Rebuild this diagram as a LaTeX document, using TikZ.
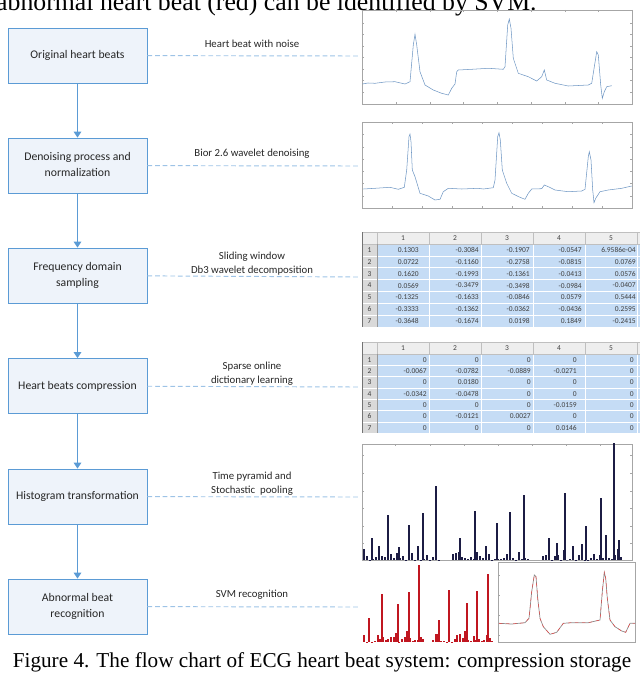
\documentclass[tikz,border=0pt]{standalone}
\usepackage{fontspec}
\setmainfont{Liberation Serif}
\setsansfont{Carlito}
\usetikzlibrary{arrows.meta}

\definecolor{boxfill}{RGB}{238,243,250}
\definecolor{boxline}{RGB}{91,155,213}
\definecolor{dashline}{RGB}{157,195,230}
\definecolor{cellblue}{RGB}{197,220,245}
\definecolor{hdrgrey}{RGB}{238,238,238}
\definecolor{navybar}{RGB}{28,28,68}
\definecolor{redbar}{RGB}{192,22,32}
\definecolor{ecgblue}{RGB}{110,150,195}

\begin{document}
\begin{tikzpicture}[x=0.3mm,y=-0.3mm,
  stage/.style={draw=boxline,fill=boxfill,line width=0.8pt,minimum width=41.7mm,minimum height=16.5mm,inner sep=0pt,text=black!85,font=\sffamily\fontsize{10}{13.6}\selectfont},
  note/.style={inner sep=0pt,text=black!85,font=\sffamily\fontsize{9.2}{11.8}\selectfont},
  flow/.style={-{Triangle[length=5pt,width=6.5pt]},draw=boxline,line width=0.8pt},
  link/.style={draw=dashline,dash pattern=on 4pt off 2.5pt,line width=0.8pt},
  cell/.style={inner sep=0pt,text=black!75,font=\sffamily\fontsize{6.4}{7}\selectfont},
  plotbox/.style={draw=black!35,line width=0.3pt}]
\clip (0,0) rectangle (640,674);
\useasboundingbox (0,0) rectangle (640,674);

% captions
\node[anchor=base west,inner sep=0pt] (topcap) at (-4,11) {\fontsize{22}{24}\selectfont abnormal heart beat (red) can be identified by SVM.};
\node[anchor=base,inner sep=0pt] (figcap) at (322,667) {\fontsize{18.1}{20}\selectfont Figure 4. The flow chart of ECG heart beat system: compression storage};

% flow chart
\node[stage] (orig) at (77.5,55.5) {Original heart beats};
\node[stage] (denoise) at (77.5,165.5) {\begin{tabular}{@{}c@{}}Denoising process and\\ normalization\end{tabular}};
\node[stage] (freq) at (77.5,275.5) {\begin{tabular}{@{}c@{}}Frequency domain\\ sampling\end{tabular}};
\node[stage] (compress) at (77.5,386) {Heart beats compression};
\node[stage] (hist) at (77.5,496.5) {Histogram transformation};
\node[stage] (abnormal) at (77.5,606.5) {\begin{tabular}{@{}c@{}}Abnormal beat\\ recognition\end{tabular}};

\draw[flow] (orig) -- (denoise);
\draw[flow] (denoise) -- (freq);
\draw[flow] (freq) -- (compress);
\draw[flow] (compress) -- (hist);
\draw[flow] (hist) -- (abnormal);

% dashed links to the panels
\coordinate (p1) at (359,56);
\coordinate (p2) at (359,166);
\coordinate (p3) at (359,277);
\coordinate (p4) at (359,387);
\coordinate (p5) at (359,497);
\coordinate (p6) at (359,607);
\draw[link] (orig) -- (p1);
\draw[link] (denoise) -- (p2);
\draw[link] (freq) -- (p3);
\draw[link] (compress) -- (p4);
\draw[link] (hist) -- (p5);
\draw[link] (abnormal) -- (p6);

\node[note] (lab1) at (252,44) {Heart beat with noise};
\node[note] (lab2) at (252,154) {Bior 2.6 wavelet denoising};
\node[note] (lab3) at (252,264) {\begin{tabular}{@{}c@{}}Sliding window\\ Db3 wavelet decomposition\end{tabular}};
\node[note] (lab4) at (252,374) {\begin{tabular}{@{}c@{}}Sparse online\\ dictionary learning\end{tabular}};
\node[note] (lab5) at (252,484) {\begin{tabular}{@{}c@{}}Time pyramid and\\ Stochastic\ \ pooling\end{tabular}};
\node[note] (lab6) at (252,595) {SVM recognition};

% noisy ECG
\draw[plotbox] (362,10) rectangle (632,104);
\foreach \x in {362,396,430,463,497,531,565,598,632}
  \draw[plotbox] (\x,104) -- ++(0,-2) (\x,10) -- ++(0,2);
\foreach \y in {23,34,46,57,69,80,92}
  \draw[plotbox] (362,\y) -- ++(2,0) (632,\y) -- ++(-2,0);
\draw[ecgblue,line width=0.45pt] plot coordinates {(362.3,84) (368,83) (375,83.3) (385,82) (395,81.7) (405,84) (410,81.7) (413.3,45) (415,34.3) (416.7,45) (420,71.7) (425,85) (433.3,90) (441.7,93.3) (448.3,95) (451.7,88.3) (455,84) (456.7,71.7) (458.3,70) (471.7,69.3) (488.3,68.3) (503.3,69.3) (505,66.7) (507.7,25) (509.3,19) (511,28.3) (513.3,58.3) (518.3,73.3) (528.3,76.7) (536.7,81) (541.7,76.7) (544.3,70) (546.7,80) (555,83.3) (568.3,86) (588.3,85) (591.7,83.3) (596.7,51.7) (598.3,55) (600.7,85) (602.3,98.3) (604.3,91.7) (606.7,86.7) (611.7,85.7)};

% denoised ECG
\draw[plotbox] (362,122) rectangle (632,208);
\foreach \x in {362,392,422,452,482,512,542,572,602,632}
  \draw[plotbox] (\x,208) -- ++(0,-2) (\x,122) -- ++(0,2);
\foreach \y in {134,147,159,171,183,196}
  \draw[plotbox] (362,\y) -- ++(2,0) (632,\y) -- ++(-2,0);
\draw[ecgblue,line width=0.45pt] plot coordinates {(363.3,189) (375,188.3) (390,187.3) (398.3,189.3) (404.3,187.3) (406.7,170) (409,136.7) (410,134) (411,141.7) (412.3,170) (415,176.7) (420,193.3) (428.3,196) (435,200) (440,199.3) (443.3,191.7) (448.3,188.3) (461.7,189) (478.3,188.3) (483.3,189) (493.3,187.7) (495,180) (497.7,136.7) (499,132.7) (500.3,140) (502.3,170) (506.7,183.3) (511.7,193.3) (520,197.3) (525,199.3) (528.3,193.3) (531.7,189) (541.7,188.7) (544.3,185) (548.3,186.7) (555,190) (568.3,191.7) (581.7,191) (585,189.3) (588.3,156.7) (589.3,151.7) (591,160) (592.7,190) (594,202.7) (595.7,198.3) (600,191.7) (608.3,190) (621.7,188.3) (631.7,186)};

% table of wavelet coefficients
\fill[cellblue] (377,244) rectangle (640,327);
\fill[hdrgrey] (362,232) rectangle (640,244);
\fill[black!15] (362,244) rectangle (377,327);
\foreach \r in {1,...,6}
  \draw[white,line width=0.5pt] (362,{244+11.86*\r}) -- (640,{244+11.86*\r});
\foreach \x in {429,481,533,585,637}
  \draw[white,line width=0.5pt] (\x,244) -- (\x,327);
\foreach \x in {377,429,481,533,585,637}
  \draw[black!25,line width=0.3pt] (\x,232) -- (\x,244);
\draw[black!25,line width=0.3pt] (362,232) -- (640,232) (362,244) -- (640,244);
\draw[black!55,line width=0.8pt] (362,232) -- (362,327);
\draw[black!40,line width=0.3pt] (377,244) -- (377,327);
\foreach \c/\x in {1/403,2/455,3/507,4/559,5/611}
  \node[cell] (ta-h\c) at (\x,238) {\c};
\foreach \r/\vals in {1/{0.1303,-0.3084,-0.1907,-0.0547,6.9586e-04},
                      2/{0.0722,-0.1160,-0.2758,-0.0815,0.0769},
                      3/{0.1620,-0.1993,-0.1361,-0.0413,0.0576},
                      4/{0.0569,-0.3479,-0.3498,-0.0984,-0.0407},
                      5/{-0.1325,-0.1633,-0.0846,0.0579,0.5444},
                      6/{-0.3333,-0.1362,-0.0362,-0.0436,0.2595},
                      7/{-0.3648,-0.1674,0.0198,0.1849,-0.2415}} {
  \node[cell] (ta-i\r) at (369.5,{238.07+11.86*\r}) {\r};
  \foreach \v [count=\c] in \vals {
    \pgfmathsetmacro\xr{{419,479,530,582,636}[\c-1]}
    \node[cell,anchor=east] (ta-\r-\c) at (\xr,{238.07+11.86*\r}) {\v};
  }
}

% table of sparse codes
\fill[cellblue] (377,354) rectangle (640,433);
\fill[hdrgrey] (362,342) rectangle (640,354);
\fill[black!15] (362,354) rectangle (377,433);
\foreach \r in {1,...,6}
  \draw[white,line width=0.5pt] (362,{354+11.33*\r}) -- (640,{354+11.33*\r});
\foreach \x in {429,481,533,585,637}
  \draw[white,line width=0.5pt] (\x,354) -- (\x,433);
\foreach \x in {377,429,481,533,585,637}
  \draw[black!25,line width=0.3pt] (\x,342) -- (\x,354);
\draw[black!25,line width=0.3pt] (362,342) -- (640,342) (362,354) -- (640,354);
\draw[black!55,line width=0.8pt] (362,342) -- (362,433);
\draw[black!40,line width=0.3pt] (377,354) -- (377,433);
\foreach \c/\x in {1/403,2/455,3/507,4/559,5/611}
  \node[cell] (tb-h\c) at (\x,348) {\c};
\foreach \r/\vals in {1/{0,0,0,0,0},
                      2/{-0.0067,-0.0782,-0.0889,-0.0271,0},
                      3/{0,0.0180,0,0,0},
                      4/{-0.0342,-0.0478,0,0,0},
                      5/{0,0,0,-0.0159,0},
                      6/{0,-0.0121,0.0027,0,0},
                      7/{0,0,0,0.0146,0}} {
  \node[cell] (tb-i\r) at (369.5,{348.33+11.33*\r}) {\r};
  \foreach \v [count=\c] in \vals {
    \pgfmathsetmacro\xr{{427,479,531,577,634}[\c-1]}
    \node[cell,anchor=east] (tb-\r-\c) at (\xr,{348.33+11.33*\r}) {\v};
  }
}

% pooled histogram
\draw[plotbox] (362,444) rectangle (632,560);
\foreach \y in {455,473,491,508,526,543}
  \draw[plotbox] (362,\y) -- ++(2,0) (632,\y) -- ++(-2,0);
\foreach \x in {395,430,464,498,532,566,600}
  \draw[plotbox] (\x,444) -- ++(0,2);
\pgfmathsetseed{11}
\foreach \x in {363,366,...,438,452,455,...,528,542,545,...,620} {
  \pgfmathsetmacro\h{17*rnd*rnd}
  \fill[navybar] (\x,560) rectangle ++(2.4,-\h);
}
\foreach \x/\t in {371/538,378/546,387/515,398/547,408/525,417/546,422/513,435/486,459/538,474/511,
                   485/546,496/523,509/512,523/495,548/538,556/543,564/493,585/526,600/498,605/535,613/443,618/540}
  \fill[navybar] (\x,560) rectangle (\x+2.4,\t);

% abnormal beat histogram
\pgfmathsetseed{5}
\foreach \x in {363,365.7,...,424,432,434.7,...,492} {
  \pgfmathsetmacro\h{16*rnd*rnd}
  \fill[redbar] (\x,642) rectangle ++(2,-\h);
}
\foreach \x/\t in {368/618,381/594,397/604,408/592,418/565,438/620,448/590,466/603,476/591,487/574}
  \fill[redbar] (\x,642) rectangle (\x+2,\t);

% recognised beat
\draw[plotbox] (498,562) rectangle (635,642);
\foreach \y in {575,595,615,635}
  \draw[plotbox] (498,\y) -- ++(2,0);
\draw[black!45,line width=0.6pt] plot coordinates {(499,623.3) (511.7,624) (525,622.7) (529,618.3) (531.7,591.7) (534.3,575) (536,576.7) (537.7,598.3) (540,618.3) (543.3,626.7) (550,634.3) (556.7,632.3) (563.3,623.3) (571.7,622.7) (588.3,622.7) (600,620) (602.3,591.7) (604.3,572.3) (605.7,578.3) (607.3,598.3) (610,620) (615,626.7) (621.7,631) (625.7,632.3) (630,623.3) (635,623.3)};
\draw[red!80,line width=0.3pt,dashed] plot coordinates {(499,623.3) (511.7,624) (525,622.7) (529,618.3) (531.7,591.7) (534.3,575) (536,576.7) (537.7,598.3) (540,618.3) (543.3,626.7) (550,634.3) (556.7,632.3) (563.3,623.3) (571.7,622.7) (588.3,622.7) (600,620) (602.3,591.7) (604.3,572.3) (605.7,578.3) (607.3,598.3) (610,620) (615,626.7) (621.7,631) (625.7,632.3) (630,623.3) (635,623.3)};
\end{tikzpicture}
\end{document}
